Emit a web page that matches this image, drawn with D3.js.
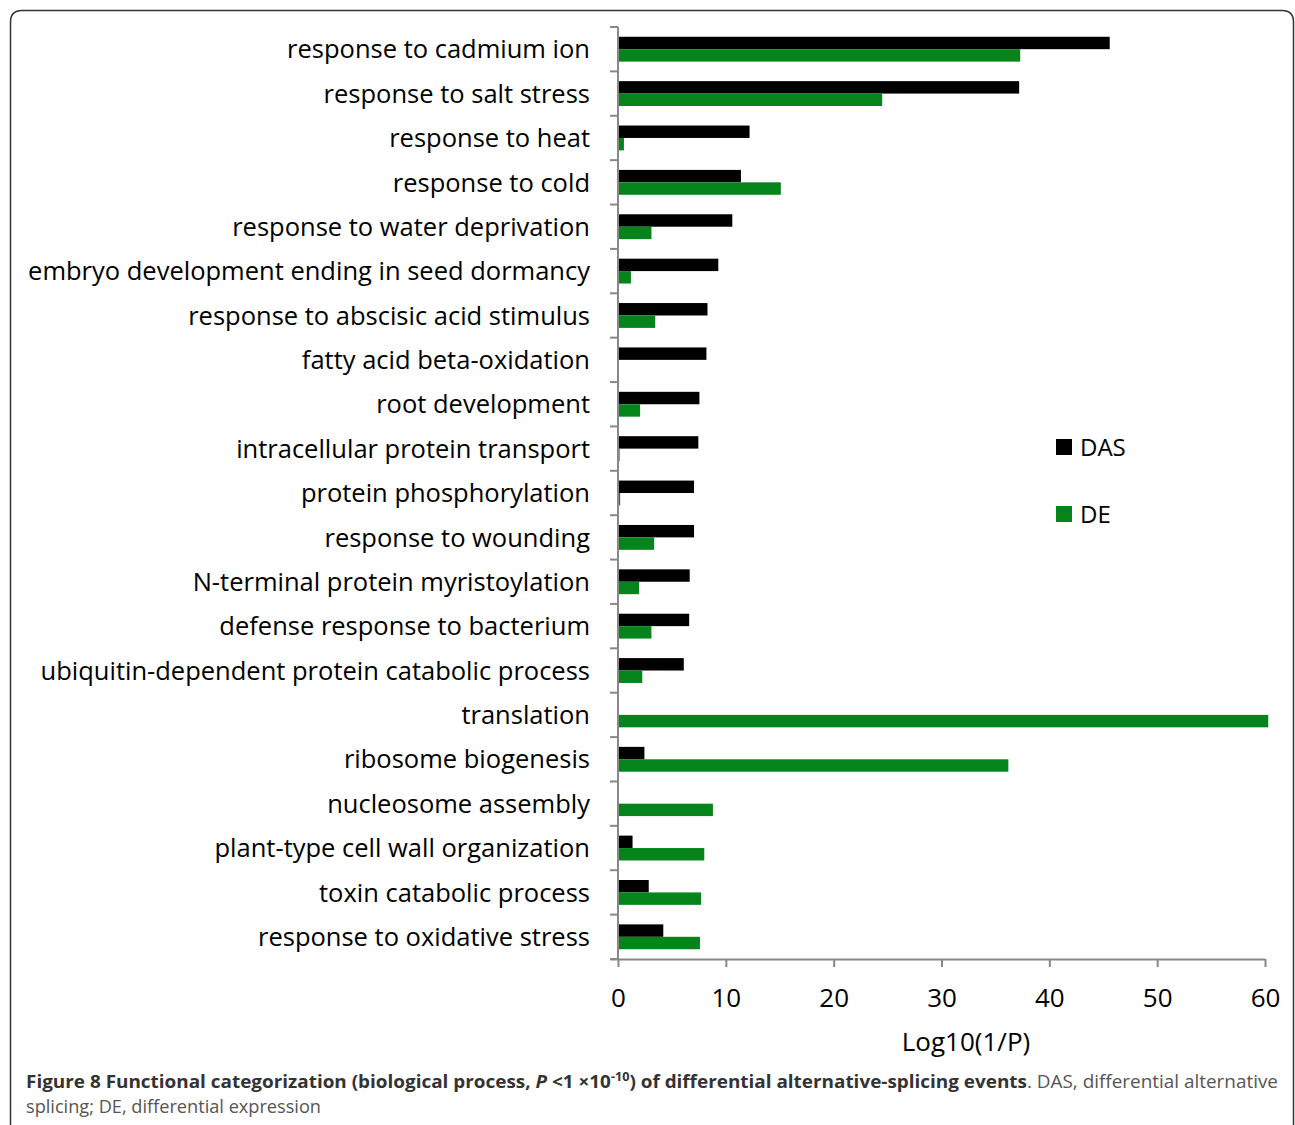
<!DOCTYPE html>
<html>
<head>
<meta charset="utf-8">
<script src="https://cdn.jsdelivr.net/npm/d3@7"></script>
<style>
  body { margin: 0; background: #fff; }
  text { font-family: "Open Sans", sans-serif; }
</style>
</head>
<body>
<svg id="drawing_region"></svg>
<script>
const categories = [
  "response to cadmium ion",
  "response to salt stress",
  "response to heat",
  "response to cold",
  "response to water deprivation",
  "embryo development ending in seed dormancy",
  "response to abscisic acid stimulus",
  "fatty acid beta-oxidation",
  "root development",
  "intracellular protein transport",
  "protein phosphorylation",
  "response to wounding",
  "N-terminal protein myristoylation",
  "defense response to bacterium",
  "ubiquitin-dependent protein catabolic process",
  "translation",
  "ribosome biogenesis",
  "nucleosome assembly",
  "plant-type cell wall organization",
  "toxin catabolic process",
  "response to oxidative stress"
];
const das = [45.6, 37.2, 12.2, 11.4, 10.6, 9.3, 8.3, 8.2, 7.55, 7.45, 7.05, 7.05, 6.65, 6.6, 6.1, 0, 2.45, 0.05, 1.35, 2.85, 4.2];
const de  = [37.3, 24.5, 0.55, 15.1, 3.1, 1.2, 3.45, 0, 2.05, 0.15, 0.2, 3.35, 1.95, 3.1, 2.25, 60.3, 36.2, 8.8, 8.0, 7.7, 7.6];
const series = ["DAS", "DE"];
const xTicks = [0, 10, 20, 30, 40, 50, 60];

const colors = { DAS: "#000000", DE: "#05841b" };

const width = 1295, height = 1125;
const svg = d3.select("#drawing_region").attr("width", width).attr("height", height);

// outer frame
svg.append("path")
  .attr("d", "M10.5,1125 V22 Q10.5,10.5 22,10.5 H1282 Q1293.5,10.5 1293.5,22 V1125")
  .attr("fill", "none").attr("stroke", "#333").attr("stroke-width", 1.5);

const plot = { left: 618, right: 1265, top: 27, bottom: 959 };

const xscale = d3.scaleLinear().domain([0, 60]).range([plot.left, plot.right]);
const yscale = d3.scaleBand().domain(categories).range([plot.top, plot.bottom]).paddingInner(0.44).paddingOuter(0.22);
const sub = d3.scaleBand().domain(series).range([0, yscale.bandwidth()]);

const rows = categories.map((c, i) => ({ cat: c, DAS: das[i], DE: de[i] }));

const g = svg.append("g");
g.selectAll("g.row").data(rows).join("g")
  .attr("class", "row")
  .attr("transform", d => `translate(0,${yscale(d.cat)})`)
  .selectAll("rect").data(d => series.map(s => ({ s, v: d[s] }))).join("rect")
  .attr("x", xscale(0))
  .attr("y", d => sub(d.s))
  .attr("width", d => xscale(d.v) - xscale(0))
  .attr("height", sub.bandwidth())
  .attr("fill", d => colors[d.s]);

// y axis line with boundary ticks
const axisColor = "#888";
g.append("line")
  .attr("x1", plot.left).attr("x2", plot.left)
  .attr("y1", plot.top).attr("y2", plot.bottom)
  .attr("stroke", axisColor).attr("stroke-width", 2);
const step = yscale.step();
const bounds = d3.range(categories.length + 1).map(i => plot.top + i * step);
g.selectAll("line.ytick").data(bounds).join("line")
  .attr("class", "ytick")
  .attr("x1", plot.left - 8).attr("x2", plot.left)
  .attr("y1", d => d).attr("y2", d => d)
  .attr("stroke", axisColor).attr("stroke-width", 2);

// category labels
g.selectAll("text.cat").data(categories).join("text")
  .attr("class", "cat")
  .attr("x", 590)
  .attr("y", d => yscale(d) + yscale.bandwidth() / 2)
  .attr("dy", "0.36em")
  .attr("text-anchor", "end")
  .attr("font-size", 25.5)
  .attr("fill", "#000")
  .text(d => d);

// x axis
const xAxis = g.append("g")
  .attr("transform", `translate(0,${plot.bottom})`)
  .call(d3.axisBottom(xscale).tickValues(xTicks).tickSize(8).tickSizeOuter(0).tickPadding(22));
xAxis.select(".domain").attr("stroke", axisColor).attr("stroke-width", 2)
  .attr("d", `M${plot.left - 8},0.5H${plot.right}`);
xAxis.selectAll(".tick line").attr("stroke", axisColor).attr("stroke-width", 2);
xAxis.selectAll(".tick text")
  .attr("font-size", 26).attr("fill", "#000")
  .style("font-family", "'Open Sans', sans-serif");

g.append("text")
  .attr("x", 966)
  .attr("y", 1051)
  .attr("text-anchor", "middle")
  .attr("font-size", 26)
  .text("Log10(1/P)");

// legend
const legend = g.append("g");
series.forEach((s, i) => {
  const y = 447 + i * 67;
  legend.append("rect").attr("x", 1056).attr("y", y - 8).attr("width", 16).attr("height", 16).attr("fill", colors[s]);
  legend.append("text").attr("x", 1080).attr("y", y).attr("dy", "0.36em")
    .attr("font-size", 24).text(s);
});

// caption
const cap = svg.append("g").attr("font-size", 18);
const line1 = cap.append("text").attr("x", 26).attr("y", 1088)
  .attr("textLength", 1252).attr("lengthAdjust", "spacingAndGlyphs");
line1.append("tspan").attr("font-weight", "bold").attr("fill", "#333")
  .text("Figure 8 Functional categorization (biological process, ");
line1.append("tspan").attr("font-weight", "bold").attr("font-style", "italic").attr("fill", "#333").text("P");
line1.append("tspan").attr("font-weight", "bold").attr("fill", "#333").text(" <1 ×10");
line1.append("tspan").attr("font-weight", "bold").attr("fill", "#333").attr("font-size", 12).attr("dy", -7).text("-10");
line1.append("tspan").attr("font-weight", "bold").attr("fill", "#333").attr("dy", 7).text(") of differential alternative-splicing events");
line1.append("tspan").attr("fill", "#555").text(". DAS, differential alternative");
cap.append("text").attr("x", 26).attr("y", 1113).attr("fill", "#555")
  .attr("textLength", 295).attr("lengthAdjust", "spacingAndGlyphs")
  .text("splicing; DE, differential expression");
</script>
</body>
</html>
